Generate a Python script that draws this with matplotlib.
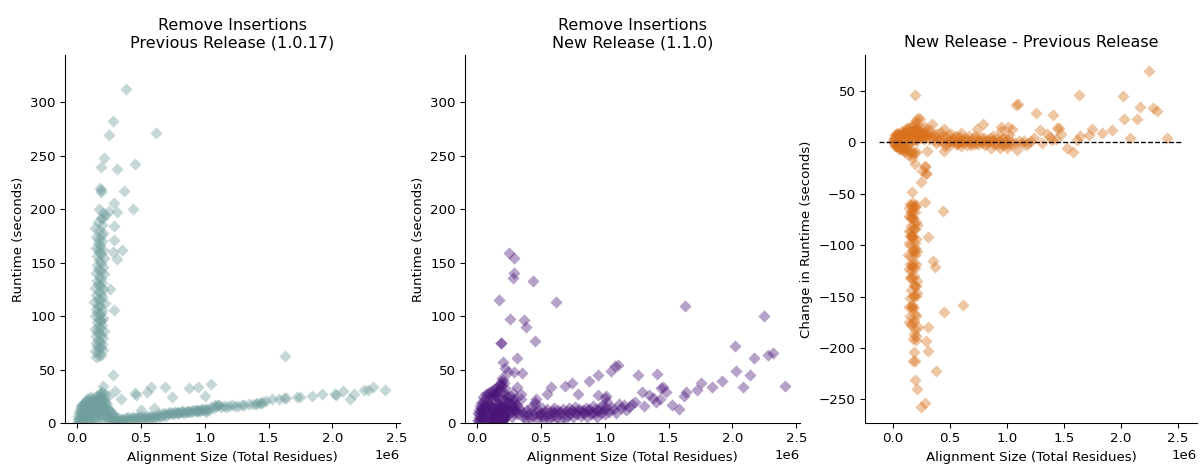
import numpy as np
import matplotlib
matplotlib.use("Agg")
import matplotlib.pyplot as plt

# alignment size in thousands of residues, runtime (s) for previous and new release

# dense cluster of small alignments
blob_size_k = [5, 8, 10, 12, 15, 18, 20, 22, 25, 28, 30, 33, 35, 38, 40, 42, 45, 48, 50, 52,
               55, 58, 60, 62, 65, 68, 70, 72, 75, 78, 80, 82, 85, 88, 90, 92, 95, 98, 100, 102,
               105, 108, 110, 112, 115, 118, 120, 122, 125, 128, 130, 132, 135, 138, 140, 142, 145, 148, 150, 152,
               155, 158, 160, 162, 165, 168, 170, 172, 175, 178, 180, 182, 185, 188, 190, 192, 195, 198, 200, 202,
               205, 208, 210, 212, 215, 218, 220, 225, 228, 232, 235, 240, 245, 250, 255, 260, 265, 270, 275, 280,
               285, 290, 295, 300, 310, 320, 330, 340, 350]
blob_prev = [1, 4, 7, 2, 10, 5, 12, 8, 1, 14, 6, 16, 10, 3, 17, 11, 6, 18, 14, 2,
             9, 20, 15, 5, 12, 21, 9, 18, 3, 14, 22, 7, 19, 11, 4, 23, 16, 8, 21, 2,
             17, 12, 24, 6, 19, 10, 22, 3, 16, 13, 21, 7, 18, 23, 11, 4, 20, 15, 25, 8,
             19, 12, 22, 5, 17, 24, 10, 20, 14, 27, 8, 22, 18, 6, 25, 13, 29, 10, 21, 16,
             4, 18, 12, 23, 7, 15, 20, 9, 14, 6, 18, 10, 4, 13, 7, 11, 5, 9, 3, 8,
             5, 2, 6, 4, 3, 5, 2, 4, 3]
blob_new = [2, 3, 9, 6, 8, 12, 16, 4, 1, 10, 14, 19, 6, 11, 13, 20, 3, 24, 9, 7,
            15, 14, 22, 2, 18, 27, 5, 12, 10, 25, 16, 4, 28, 19, 1, 18, 8, 17, 29, 5,
            12, 24, 15, 3, 30, 14, 26, 8, 10, 27, 32, 5, 22, 11, 25, 2, 28, 6, 33, 19,
            24, 4, 30, 14, 34, 9, 12, 31, 3, 36, 18, 13, 35, 9, 38, 22, 42, 14, 40, 7,
            6, 29, 22, 37, 9, 26, 33, 16, 21, 12, 24, 19, 8, 20, 15, 25, 10, 18, 6, 14,
            20, 9, 12, 16, 11, 8, 14, 22, 10]

# low band of mid-sized alignments
band_size_k = [360, 370, 380, 390, 400, 410, 420, 430, 440, 450, 460, 470, 480, 490, 500, 510, 520, 530, 540, 550,
               560, 570, 580, 590, 600, 610, 620, 630, 640, 650, 660, 670, 680, 690, 700, 710, 720, 730, 740, 750,
               760, 770, 780, 790, 800, 810, 820, 830, 840, 850, 860, 870, 880, 890, 900, 910, 920, 930, 940, 950,
               960, 970, 980, 990, 1000, 1010, 1020, 1030, 1050, 1070, 1090, 1110, 1130, 1150, 1170, 1190, 1210, 1240, 1310]
band_prev = [4, 3, 5, 4, 6, 3, 5, 4, 6, 5, 4, 6, 5, 7, 5, 6, 4, 6, 5, 7,
             6, 5, 7, 6, 5, 7, 6, 8, 7, 6, 8, 7, 9, 8, 7, 9, 8, 10, 9, 8,
             9, 10, 9, 10, 9, 10, 11, 10, 9, 10, 11, 10, 11, 10, 11, 12, 11, 12, 11, 12,
             11, 12, 13, 12, 13, 12, 13, 12, 15, 14, 16, 17, 15, 16, 15, 16, 17, 16, 17]
band_new = [6, 9, 4, 12, 8, 5, 15, 10, 7, 18, 9, 4, 12, 8, 6, 14, 5, 10, 7, 13,
            4, 9, 6, 11, 14, 8, 5, 12, 9, 3, 10, 13, 8, 5, 11, 7, 14, 9, 12, 6,
            10, 15, 8, 11, 13, 7, 10, 12, 9, 14, 6, 11, 13, 8, 10, 16, 9, 13, 6, 11,
            14, 9, 17, 12, 8, 15, 20, 10, 14, 13, 9, 18, 14, 17, 12, 15, 18, 20, 16]

# slow alignments in the previous release
col_size_k = [150, 175, 190, 160, 140, 205, 170, 185, 155, 195, 145, 180, 165, 200, 150, 188, 172, 158, 210, 142,
              178, 162, 195, 152, 183, 168, 205, 138, 175, 190, 157, 198, 148, 182, 165, 215, 135, 178, 160, 193,
              150, 185, 170, 202, 143, 180, 163, 196, 155, 188, 172, 208, 147, 183, 166, 199, 158, 190, 175, 212,
              152, 186, 168, 200, 145, 180, 162, 195, 173, 150, 188, 205, 168, 140, 192, 160, 183, 200, 175]
col_prev = [62, 63, 64, 66, 67, 68, 70, 71, 72, 74, 75, 76, 78, 79, 81, 82, 84, 85, 86, 88,
            89, 91, 92, 94, 95, 97, 98, 100, 101, 103, 104, 106, 107, 109, 110, 112, 113, 115, 116, 118,
            120, 121, 123, 125, 126, 128, 130, 131, 133, 135, 137, 139, 140, 142, 144, 146, 148, 150, 152, 154,
            156, 158, 160, 162, 164, 166, 168, 170, 172, 174, 176, 178, 180, 182, 185, 188, 192, 196, 200]
col_new = [2, 4, 1, 5, 3, 7, 2, 9, 4, 6, 3, 12, 5, 2, 8, 3, 10, 4, 6, 2,
           15, 5, 8, 3, 11, 6, 4, 2, 9, 5, 13, 3, 7, 4, 18, 6, 3, 10, 5, 8,
           2, 14, 4, 7, 3, 11, 6, 9, 2, 5, 16, 4, 8, 3, 12, 6, 4, 10, 3, 7,
           5, 9, 2, 13, 4, 6, 8, 3, 11, 5, 2, 9, 4, 7, 3, 10, 6, 4, 9]

# scattered outliers
out_size_k = [380, 280, 250, 620, 210, 190, 310, 450, 180, 190, 185, 370, 290, 440, 310, 250, 220, 200,
              290, 290, 280, 350, 310, 260, 170, 285, 190, 190, 200, 220, 240, 280, 1630,
              300, 340, 450, 460, 500, 600, 550, 580, 690, 740, 790, 880, 950, 950, 1010, 1000, 1050,
              1080, 1100, 1260, 1290, 1350, 1380, 1400, 1410, 1430, 1440, 1460, 1480, 1530, 1580, 1620, 1640,
              1720, 1750, 1840, 1920, 2020, 2030, 2080, 2140, 2170, 2250, 2280, 2320, 2410]
out_prev = [312, 282, 269, 271, 248, 239, 237, 242, 220, 218, 216, 217, 206, 200, 197, 198, 194, 192,
            184, 171, 160, 162, 153, 125, 163, 106, 96, 29, 35, 27, 25, 45, 63,
            30, 22, 28, 26, 12, 14, 29, 34, 34, 24, 9, 33, 34, 11, 10, 25, 36,
            17, 17, 16, 17, 18, 18, 18, 19, 19, 19, 20, 21, 22, 22, 23, 23,
            24, 24, 25, 27, 27, 26, 30, 22, 27, 31, 31, 34, 31]
out_new = [90, 28, 12, 113, 8, 8, 34, 77, 7, 5, 12, 96, 13, 133, 17, 159, 14, 4,
           154, 140, 136, 47, 61, 97, 115, 48, 75, 75, 57, 51, 48, 22, 109,
           22, 27, 20, 22, 9, 10, 27, 34, 35, 37, 27, 39, 45, 26, 25, 23, 49,
           53, 54, 45, 29, 26, 23, 20, 46, 22, 33, 34, 29, 17, 13, 25, 29,
           31, 37, 34, 39, 72, 49, 34, 45, 61, 100, 64, 65, 35]

size = np.array(blob_size_k + band_size_k + col_size_k + out_size_k) * 1000
prev_rt = np.array(blob_prev + band_prev + col_prev + out_prev, dtype=float)
new_rt = np.array(blob_new + band_new + col_new + out_new, dtype=float)
delta = new_rt - prev_rt

TEAL = "#6f9e9c"
PURPLE = "#4a1479"
ORANGE = "#d9711c"

fig = plt.figure(figsize=(1202 / 96, 467 / 96), dpi=96)
ax1 = fig.add_axes([0.0541, 0.0942, 0.2787, 0.788])
ax2 = fig.add_axes([0.3869, 0.0942, 0.2787, 0.788])
ax3 = fig.add_axes([0.7196, 0.0942, 0.2762, 0.788])

kw = dict(marker="D", s=42, alpha=0.4, linewidths=0)
ax1.scatter(size, prev_rt, color=TEAL, **kw)
ax2.scatter(size, new_rt, color=PURPLE, **kw)
ax3.scatter(size, delta, color=ORANGE, **kw)
ax3.hlines(0, -120000, 2540000, colors="black", linestyles="--", linewidth=1)

ax1.set_title("Remove Insertions\nPrevious Release (1.0.17)")
ax2.set_title("Remove Insertions\nNew Release (1.1.0)")
ax3.set_title("New Release - Previous Release")

for ax in (ax1, ax2):
    ax.set_ylabel("Runtime (seconds)")
    ax.set_xlim(-95000, 2530000)
    ax.set_ylim(0, 344)
ax3.set_ylabel("Change in Runtime (seconds)")
ax3.set_xlim(-245000, 2670000)
ax3.set_ylim(-273, 85)

for ax in (ax1, ax2, ax3):
    ax.set_xlabel("Alignment Size (Total Residues)")
    ax.spines["top"].set_visible(False)
    ax.spines["right"].set_visible(False)

fig.savefig("out.png", dpi=96)
